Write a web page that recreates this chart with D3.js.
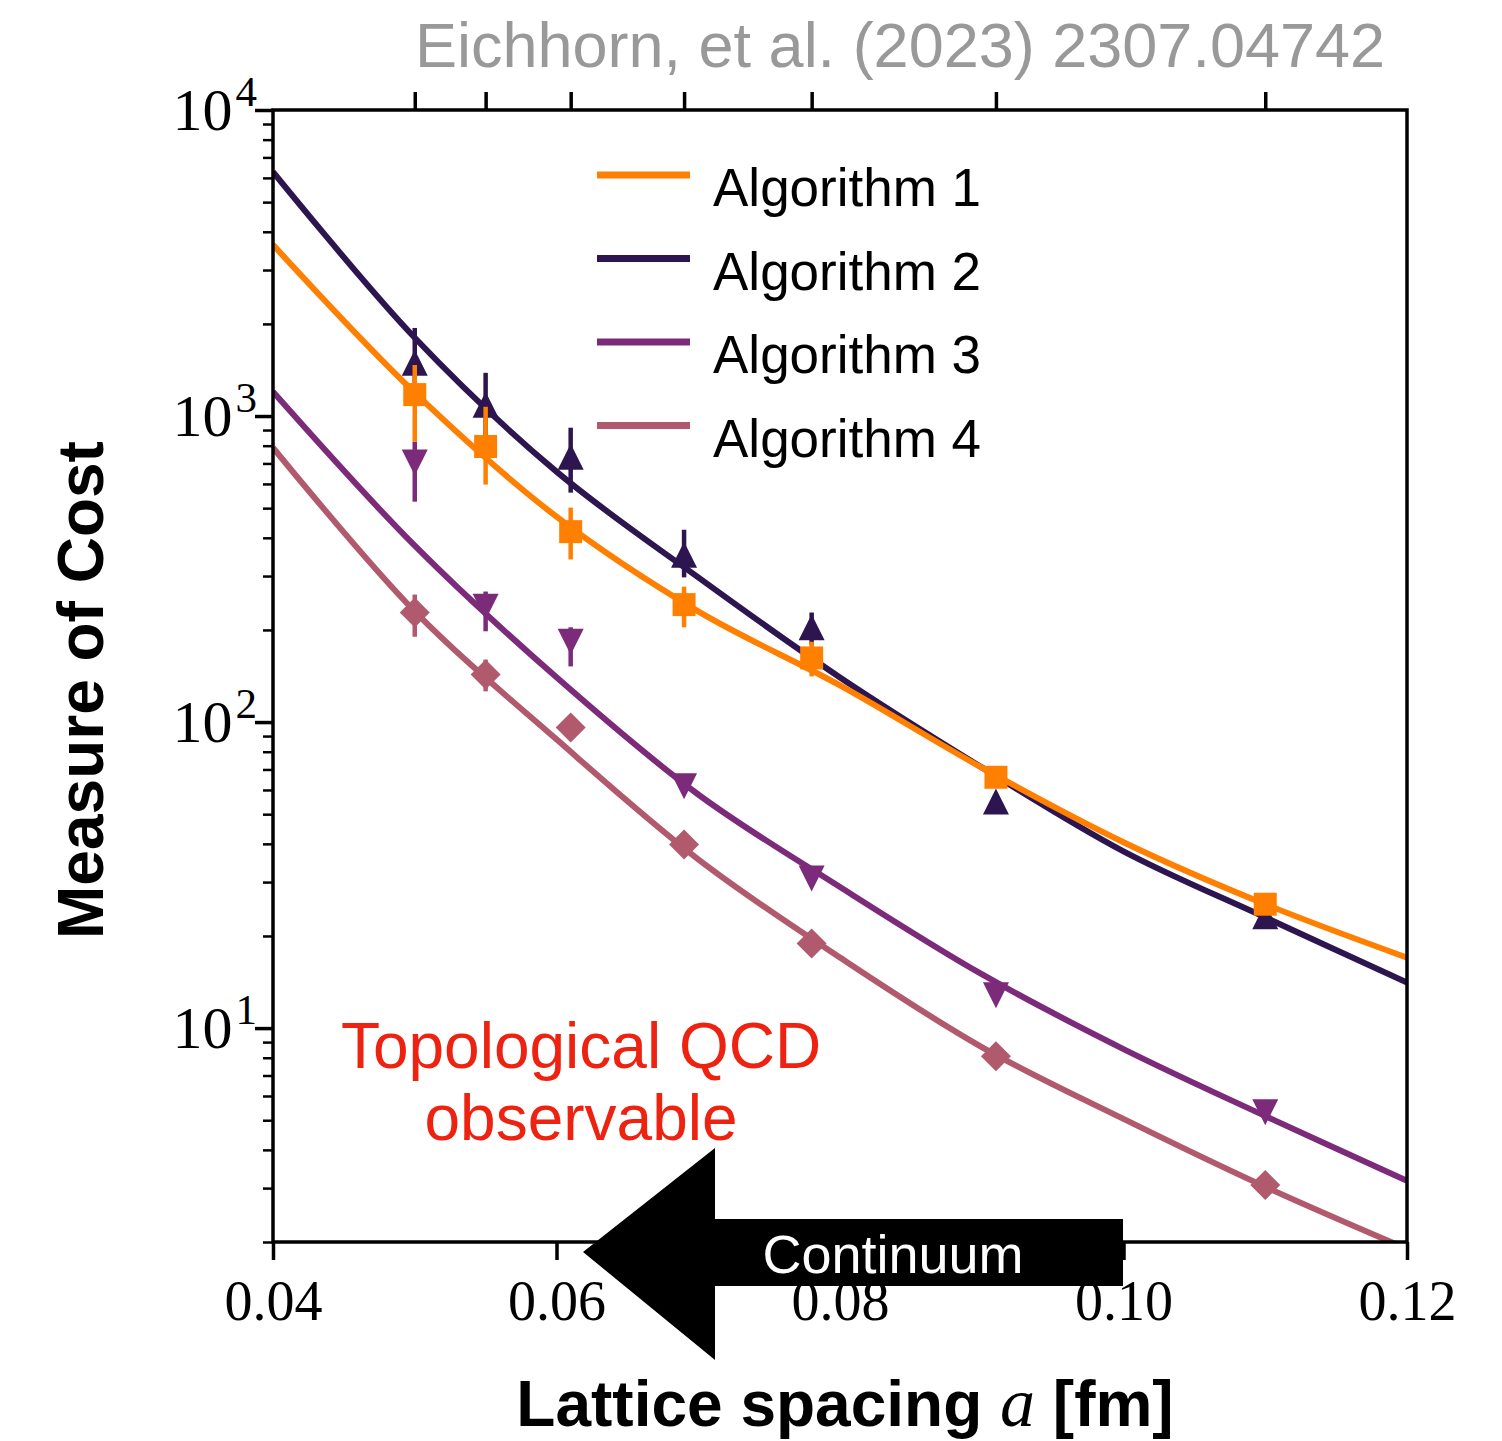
<!DOCTYPE html>
<html>
<head>
<meta charset="utf-8">
<script src="https://cdn.jsdelivr.net/npm/d3@7"></script>
<style>
  body { margin: 0; background: #fff; }
  svg { display: block; }
</style>
</head>
<body>
<svg id="chart" width="1502" height="1441"></svg>
<script>
// lattice spacings of the ensembles [fm]
let spacings = [0.05, 0.055, 0.061, 0.069, 0.078, 0.091, 0.11];

// measured cost, with error bar bounds (null = no visible bar)
let alg1Cost = [1175, 795, 419, 242, 162, 66, 25.4];
let alg1Err = [[824, 1468], [597, 1072], [340, 502], [204, 277], [141, 183], null, null];
let alg2Cost = [1493, 1089, 736, 352, 204, 55, 23.2];
let alg2Err = [[1130, 1940], [837, 1384], [562, 916], [297, 425], [179, 228], null, null];
let alg3Cost = [705, 238, 183, 61.7, 30.8, 12.8, 5.31];
let alg3Err = [[525, 824], [198, 267], [152, 204], null, null, null, null];
let alg4Cost = [228, 143, 96, 39.8, 18.9, 8.09, 3.07];
let alg4Err = [[190, 261], [126, 160], null, null, null, null, null];

// fit curves
let fitA = [0.04, 0.05, 0.06, 0.07, 0.08, 0.09, 0.10, 0.11, 0.12];
let alg1Fit = [3625, 1192, 469, 230, 131.8, 71, 40.5, 25.4, 17.0];
let alg2Fit = [6275, 1802, 658, 297, 139.9, 71.1, 37.8, 23.0, 14.1];
let alg3Fit = [1200, 377, 140, 58.0, 28.9, 15.0, 8.54, 5.16, 3.17];
let alg4Fit = [788, 230, 87.8, 35.6, 17.0, 8.67, 5.05, 3.03, 1.90];

let xTicks = [0.04, 0.06, 0.08, 0.10, 0.12];
let yTicks = [10, 100, 1000, 10000];

let names = ['Algorithm 1', 'Algorithm 2', 'Algorithm 3', 'Algorithm 4'];
let colors = ['#ff8000', '#2d1650', '#7c2a7a', '#b15a6e'];

let svg = d3.select('#chart');
let pad = {l: 273, r: 1407, t: 110, b: 1242};

let x = d3.scaleLinear().domain([0.04, 0.12]).range([pad.l, pad.r]);
let y = d3.scaleLog().domain([2, 10000]).range([pad.b, pad.t]);

// title
svg.append('text')
    .attr('x', 900).attr('y', 67)
    .attr('text-anchor', 'middle')
    .style('font-family', 'Liberation Sans, Arial, sans-serif')
    .style('font-size', '63px')
    .attr('fill', '#999999')
    .text('Eichhorn, et al. (2023) 2307.04742');

svg.append('clipPath').attr('id', 'plotclip')
    .append('rect')
    .attr('x', pad.l).attr('y', pad.t)
    .attr('width', pad.r - pad.l).attr('height', pad.b - pad.t);

// curves
let line = d3.line()
    .x(d => x(d[0]))
    .y(d => y(d[1]))
    .curve(d3.curveCatmullRom.alpha(0.5));

let fits = [alg1Fit, alg2Fit, alg3Fit, alg4Fit];
let costs = [alg1Cost, alg2Cost, alg3Cost, alg4Cost];
let errs = [alg1Err, alg2Err, alg3Err, alg4Err];

// marker shapes: square, triangle up, triangle down, diamond
function markerPath(kind) {
    if (kind == 0) return 'M-11.5,-11.5H11.5V11.5H-11.5Z';
    if (kind == 1) return 'M0,-13L13,13L-13,13Z';
    if (kind == 2) return 'M0,13L13,-13L-13,-13Z';
    return 'M0,-15L15,0L0,15L-15,0Z';
}

let plotG = svg.append('g').attr('clip-path', 'url(#plotclip)');
// draw from Algorithm 4 up to Algorithm 1 so orange sits on top
[3, 2, 1, 0].forEach(k => {
    let g = plotG.append('g').attr('class', 'series-' + k);
    g.append('path')
        .datum(fitA.map((a, i) => [a, fits[k][i]]))
        .attr('d', line)
        .attr('fill', 'none')
        .attr('stroke', colors[k])
        .attr('stroke-width', 6);
    let pts = spacings.map((a, i) => ({a: a, v: costs[k][i], e: errs[k][i]}));
    g.selectAll('line.err')
        .data(pts.filter(d => d.e))
        .enter().append('line')
        .attr('class', 'err')
        .attr('x1', d => x(d.a)).attr('x2', d => x(d.a))
        .attr('y1', d => y(d.e[0])).attr('y2', d => y(d.e[1]))
        .attr('stroke', colors[k])
        .attr('stroke-width', 4.5);
    g.selectAll('path.mk')
        .data(pts)
        .enter().append('path')
        .attr('class', 'mk')
        .attr('transform', d => `translate(${x(d.a)},${y(d.v)})`)
        .attr('d', markerPath(k))
        .attr('fill', colors[k]);
});

// frame
let axisG = svg.append('g').attr('stroke', '#000').attr('stroke-width', 3.5);
axisG.append('rect')
    .attr('x', pad.l).attr('y', pad.t)
    .attr('width', pad.r - pad.l).attr('height', pad.b - pad.t)
    .attr('fill', 'none');

// bottom axis
let xAxis = d3.axisBottom(x).tickValues(xTicks).tickSize(18).tickSizeOuter(0)
    .tickFormat(d3.format('.2f'));
let xAxisG = svg.append('g')
    .attr('transform', `translate(0,${pad.b})`)
    .call(xAxis);
xAxisG.select('.domain').remove();
xAxisG.selectAll('line').attr('stroke-width', 3.5);
xAxisG.selectAll('text')
    .attr('dy', null).attr('y', 78)
    .style('font-family', 'Liberation Serif, Times New Roman, serif')
    .style('font-size', '56px')
    .attr('fill', '#000');

// top ticks at the ensemble spacings
let topAxisG = svg.append('g')
    .attr('transform', `translate(0,${pad.t})`)
    .call(d3.axisTop(x).tickValues(spacings).tickSize(18).tickSizeOuter(0).tickFormat(''));
topAxisG.select('.domain').remove();
topAxisG.selectAll('line').attr('stroke-width', 3.5);

// left axis, major + minor
let minor = [];
[1, 10, 100, 1000].forEach(dec => {
    for (let m = 2; m <= 9; m++) {
        let v = dec * m;
        if (v >= 2 && v <= 10000 && v != 10) minor.push(v);
    }
});
let leftMinor = svg.append('g')
    .attr('transform', `translate(${pad.l},0)`)
    .call(d3.axisLeft(y).tickValues(minor).tickSize(10).tickSizeOuter(0).tickFormat(''));
leftMinor.select('.domain').remove();
leftMinor.selectAll('line').attr('stroke-width', 2.5);

let leftMajor = svg.append('g')
    .attr('transform', `translate(${pad.l},0)`)
    .call(d3.axisLeft(y).tickValues(yTicks).tickSize(18).tickSizeOuter(0).tickFormat(''));
leftMajor.select('.domain').remove();
leftMajor.selectAll('line').attr('stroke-width', 3.5);

let yLab = svg.append('g').selectAll('text')
    .data(yTicks)
    .enter().append('text')
    .attr('x', 257)
    .attr('y', d => y(d) + 20)
    .attr('text-anchor', 'end')
    .style('font-family', 'Liberation Serif, Times New Roman, serif')
    .style('font-size', '60px')
    .attr('fill', '#000');
yLab.append('tspan').text('10');
yLab.append('tspan')
    .attr('dy', -24)
    .attr('dx', 3)
    .style('font-size', '43px')
    .text(d => Math.round(Math.log10(d)));

// axis titles
svg.append('text')
    .attr('transform', 'translate(103,690) rotate(-90)')
    .attr('text-anchor', 'middle')
    .style('font-family', 'Liberation Sans, Arial, sans-serif')
    .style('font-weight', 'bold')
    .style('font-size', '64px')
    .text('Measure of Cost');

let xTitle = svg.append('text')
    .attr('x', 845).attr('y', 1426)
    .attr('text-anchor', 'middle')
    .style('font-family', 'Liberation Sans, Arial, sans-serif')
    .style('font-weight', 'bold')
    .style('font-size', '64px');
xTitle.append('tspan').text('Lattice spacing ');
xTitle.append('tspan')
    .style('font-family', 'Liberation Serif, Times New Roman, serif')
    .style('font-style', 'italic')
    .style('font-weight', 'normal')
    .style('font-size', '70px')
    .text('a');
xTitle.append('tspan').text(' [fm]');

// legend
let legend = svg.append('g').attr('transform', 'translate(597,175)');
names.forEach((n, i) => {
    let row = legend.append('g').attr('transform', `translate(0,${i * 83.5})`);
    row.append('line')
        .attr('x1', 0).attr('x2', 93)
        .attr('y1', 0).attr('y2', 0)
        .attr('stroke', colors[i])
        .attr('stroke-width', 7);
    row.append('text')
        .attr('x', 116).attr('y', 31)
        .style('font-family', 'Liberation Sans, Arial, sans-serif')
        .style('font-size', '53px')
        .attr('fill', '#000')
        .text(n);
});

// annotation
let note = svg.append('text')
    .attr('text-anchor', 'middle')
    .style('font-family', 'Liberation Sans, Arial, sans-serif')
    .style('font-size', '64px')
    .attr('fill', '#ee2211');
note.append('tspan').attr('x', 581).attr('y', 1068).text('Topological QCD');
note.append('tspan').attr('x', 581).attr('y', 1140).text('observable');

// continuum arrow
svg.append('path')
    .attr('d', 'M583,1252L715,1148L715,1219L1123,1219L1123,1286L715,1286L715,1360Z')
    .attr('fill', '#000');
svg.append('text')
    .attr('x', 893).attr('y', 1273)
    .attr('text-anchor', 'middle')
    .style('font-family', 'Liberation Sans, Arial, sans-serif')
    .style('font-size', '54px')
    .attr('fill', '#fff')
    .text('Continuum');
</script>
</body>
</html>
